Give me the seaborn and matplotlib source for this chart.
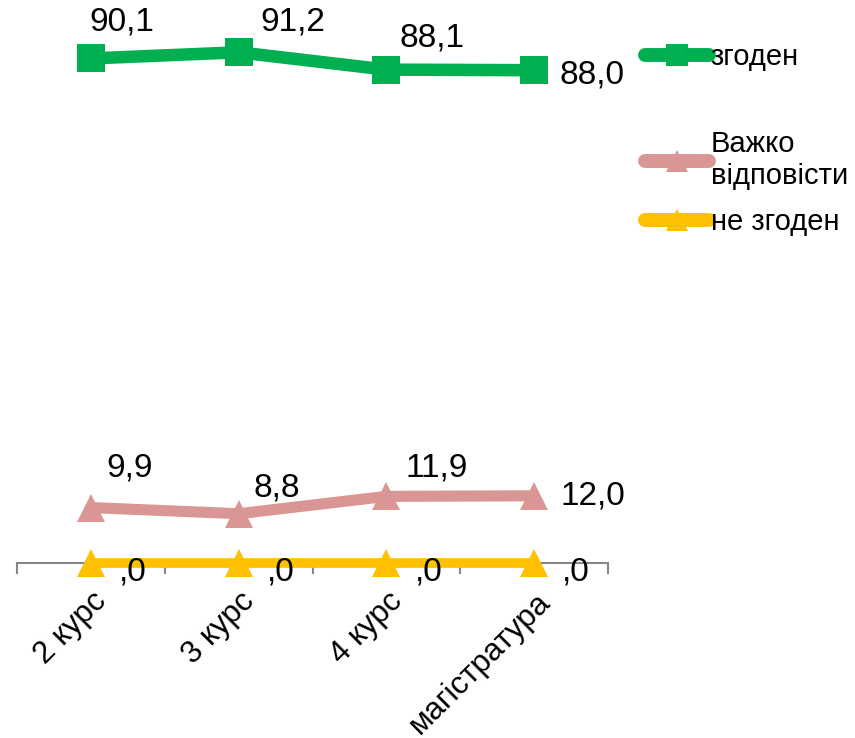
import matplotlib
matplotlib.use("Agg")
import matplotlib.pyplot as plt
import matplotlib.transforms as mtransforms
from matplotlib.lines import Line2D
import seaborn as sns
import pandas as pd

categories = ["2 курс", "3 курс", "4 курс", "магістратура"]
agree = [90.1, 91.2, 88.1, 88.0]
hard = [9.9, 8.8, 11.9, 12.0]
disagree = [0.0, 0.0, 0.0, 0.0]
series_names = ["згоден", "Важко\nвідповісти", "не згоден"]

sns.set_theme(style="white")
plt.rcParams['font.family'] = ['Liberation Sans', 'DejaVu Sans']
plt.rcParams['text.color'] = 'black'

fig = plt.figure(figsize=(8.55, 7.38), dpi=100)
ax = fig.add_axes([17/855, (738-563)/738, (608-17)/855, 560/738])

colors = ["#00B050", "#D99694", "#FFC000"]
markers = ["s", "^", "^"]
lws = [9, 8, 7]
mss = [20, 20, 20]
values = [agree, hard, disagree]

# label offsets in pixels (dx, dy) for each point
offsets = [
    [(31, 36), (54, 30), (46, 32), (58, -5)],
    [(39, 40), (38, 26), (50, 28), (59, 0)],
    [(42, -9), (42, -9), (42, -9), (42, -9)],
]

for i, (vals, name) in enumerate(zip(values, series_names)):
    df = pd.DataFrame({"cat": categories, "val": vals})
    sns.lineplot(data=df, x="cat", y="val", ax=ax, color=colors[i], marker=markers[i],
                 linewidth=lws[i], markersize=mss[i], markeredgewidth=0,
                 clip_on=False, zorder=3 + (2 - i), legend=False)
    for j, v in enumerate(vals):
        txt = f"{v:.1f}".replace(".", ",")
        if v == 0:
            txt = ",0"
        ax.annotate(txt, (j, v), xytext=offsets[i][j], textcoords="offset pixels",
                    ha="center", va="center", fontsize=24, color="black", zorder=10,
                    annotation_clip=False)

ax.set_xlim(-0.5, 3.5)
ax.set_ylim(0, 100)
ax.set_xlabel("")
ax.set_ylabel("")
ax.set_yticks([])
for s in ["top", "right", "left"]:
    ax.spines[s].set_visible(False)
ax.spines["bottom"].set_color("#868686")
ax.spines["bottom"].set_linewidth(1.5)

ax.set_xticks(range(len(categories)))
ax.set_xticklabels(categories, rotation=45, ha="right", rotation_mode="anchor",
                   fontsize=22.5, color="black")
ax.tick_params(axis="x", which="major", length=0, pad=17, bottom=True)
ax.set_xticks([-0.5, 0.5, 1.5, 2.5, 3.5], minor=True)
ax.tick_params(axis="x", which="minor", length=8, width=1.5, color="#868686",
               direction="out", bottom=True)
shift = mtransforms.ScaledTranslation(1/100, 0, fig.dpi_scale_trans)
for lab in ax.get_xticklabels():
    lab.set_transform(lab.get_transform() + shift)

# legend entries
leg_y = [57, 160, 222]
for i in range(3):
    h = Line2D([0], [0], color=colors[i], marker=markers[i], linewidth=10,
               markersize=16, markeredgewidth=0, solid_capstyle="round")
    leg = fig.legend([h], [series_names[i]], loc="center left",
                     bbox_to_anchor=(645/855, 1 - leg_y[i]/738), frameon=False,
                     fontsize=21, handlelength=2.2, handletextpad=0.05,
                     borderpad=0, borderaxespad=0, labelcolor="black")

fig.savefig("out.png", dpi=100)
